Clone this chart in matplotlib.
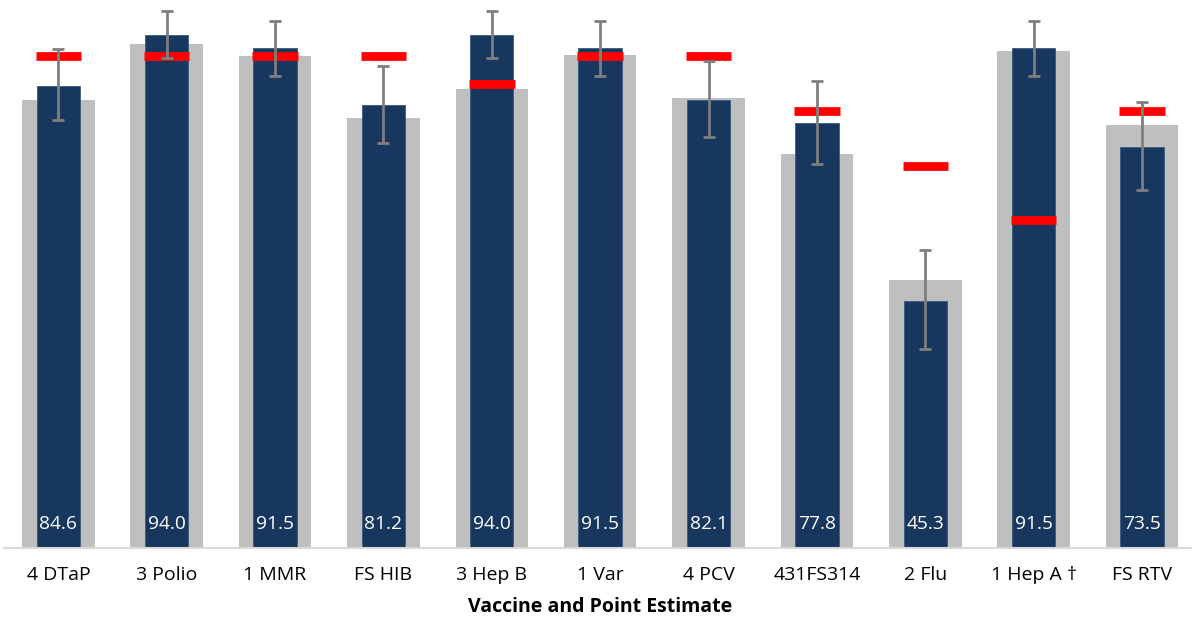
import matplotlib
matplotlib.use("Agg")
import matplotlib.pyplot as plt
import numpy as np

plt.rcParams["font.family"] = ["Open Sans", "DejaVu Sans"]

# %% data
vaccines = ["4 DTaP", "3 Polio", "1 MMR", "FS HIB", "3 Hep B", "1 Var",
            "4 PCV", "431FS314", "2 Flu", "1 Hep A \u2020", "FS RTV"]
point_est = [84.6, 94.0, 91.5, 81.2, 94.0, 91.5, 82.1, 77.8, 45.3, 91.5, 73.5]
ci_low    = [78.3, 89.8, 86.5, 74.1, 89.8, 86.5, 75.3, 70.3, 36.4, 86.5, 65.6]
ci_high   = [91.3, 98.4, 96.5, 88.2, 98.4, 96.5, 89.1, 85.5, 54.6, 96.5, 81.6]
comparison = [82.1, 92.3, 90.0, 78.8, 84.1, 90.3, 82.4, 72.2, 49.0, 91.0, 77.5]
targets   = [90, 90, 90, 90, 85, 90, 90, 80, 70, 60, 80]

NAVY = "#17375e"
GREY = "#bfbfbf"
RED = "#ff0000"
ERR = "#7f7f7f"

x = np.arange(len(vaccines))
pe = np.array(point_est)
yerr = np.vstack([pe - np.array(ci_low), np.array(ci_high) - pe])

# %% plot
fig = plt.figure(figsize=(11.92, 6.2), dpi=100)
ax = fig.add_axes([0.0035, 0.116, 1.0, 0.881])

ax.bar(x, comparison, width=0.67, color=GREY, zorder=1)
ax.bar(x, point_est, width=0.40, color=NAVY, edgecolor="#3d5a80",
       linewidth=0.6, zorder=2)
ax.hlines(targets, x - 0.21, x + 0.21, colors=RED, linewidth=6.3, zorder=3)
ax.errorbar(x, pe, yerr=yerr, fmt="none", ecolor=ERR, elinewidth=2,
            capsize=4, capthick=2, zorder=4)

for xi, v in zip(x, point_est):
    ax.text(xi, 4.4, f"{v:.1f}", color="white", fontsize=13.8,
            ha="center", va="center", zorder=5)

ax.set_xlim(-0.5, 10.5)
ax.set_ylim(0, 100)
ax.set_xticks(x)
ax.set_xticklabels(vaccines, fontsize=14)
ax.tick_params(axis="x", length=0, pad=13)
ax.set_yticks([])
for s in ["top", "right", "left"]:
    ax.spines[s].set_visible(False)
ax.spines["bottom"].set_color("#d9d9d9")
ax.spines["bottom"].set_linewidth(1.5)
ax.set_xlabel("Vaccine and Point Estimate", fontsize=14,
              fontweight="bold", labelpad=9)

fig.savefig("out.png", dpi=100)
